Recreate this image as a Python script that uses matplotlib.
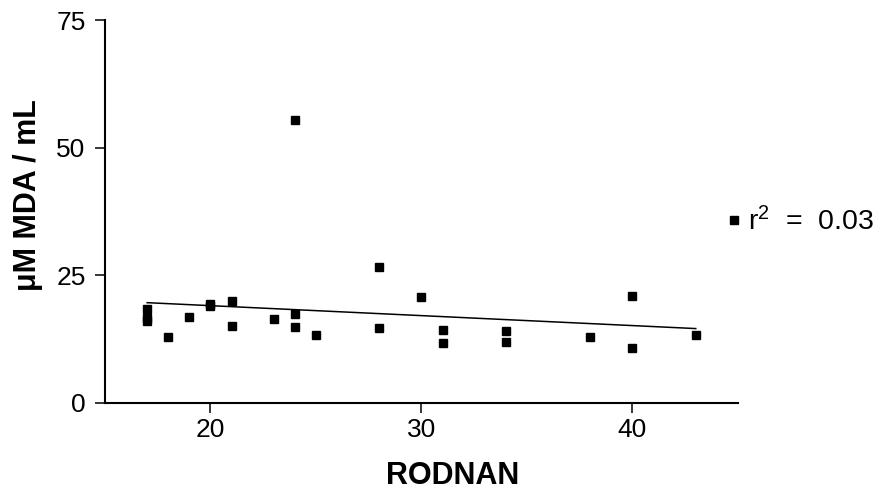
import numpy as np
import matplotlib
matplotlib.use("Agg")
import matplotlib.pyplot as plt
from matplotlib.lines import Line2D

plt.rcParams['mathtext.fontset'] = 'custom'
plt.rcParams['mathtext.rm'] = 'Liberation Sans'
plt.rcParams['mathtext.it'] = 'Liberation Sans'
plt.rcParams['font.family'] = ['Liberation Sans', 'DejaVu Sans']

# RODNAN score vs MDA
rodnan = [17, 17, 17, 18, 19, 20, 20, 21, 21, 23, 24, 24, 24, 25,
          28, 28, 30, 31, 31, 34, 34, 38, 40, 40, 43]
mda = [18.5, 16.6, 16.0, 12.9, 16.8, 19.4, 19.0, 20.0, 15.1, 16.4, 55.5, 17.4, 14.9, 13.4,
       26.6, 14.6, 20.7, 14.2, 11.8, 14.0, 12.0, 12.9, 21.0, 10.8, 13.4]
x_ticks = [20, 30, 40]
y_ticks = [0, 25, 50, 75]

x = np.array(rodnan, dtype=float)
y = np.array(mda, dtype=float)

# linear fit
slope, icpt = np.polyfit(x, y, 1)
r2 = np.corrcoef(x, y)[0, 1] ** 2
xf = np.array([x.min(), x.max()])
yf = slope * xf + icpt

fig = plt.figure(figsize=(8.82, 4.93), dpi=100)
ax = fig.add_axes([0.119, 0.1826, 0.7177, 0.7768])

ax.plot(x, y, 's', color='black', markersize=6.3, linestyle='none', zorder=3)
ax.plot(xf, yf, color='black', linewidth=1.1)

ax.set_xlim(15, 45)
ax.set_ylim(0, 75)
ax.set_xticks(x_ticks)
ax.set_yticks(y_ticks)

for s in ['top', 'right']:
    ax.spines[s].set_visible(False)
for s in ['left', 'bottom']:
    ax.spines[s].set_linewidth(1.5)
ax.tick_params(direction='out', length=7.5, width=1.1, color='black')
ax.tick_params(axis='x', labelsize=19, pad=3)
ax.tick_params(axis='y', labelsize=19, pad=6.5)

ax.set_xlabel('RODNAN', fontsize=22, fontweight='bold')
ax.xaxis.set_label_coords(0.55, -0.19)
ax.xaxis.label.set_va('center')
ax.set_ylabel('\u03bcM MDA / mL', fontsize=22, fontweight='bold')
ax.yaxis.set_label_coords(-0.122, 0.543)
ax.yaxis.label.set_va('center')

handle = Line2D([], [], marker='s', color='black', linestyle='none', markersize=6)
ax.legend([handle], ['r$^2$  =  %.2f' % r2], loc='center left',
          bbox_to_anchor=(0.79, 0.55), bbox_transform=fig.transFigure,
          frameon=False, prop={'size': 20.5},
          handletextpad=0.1, handlelength=0.8)

plt.savefig("out.png", dpi=100)
